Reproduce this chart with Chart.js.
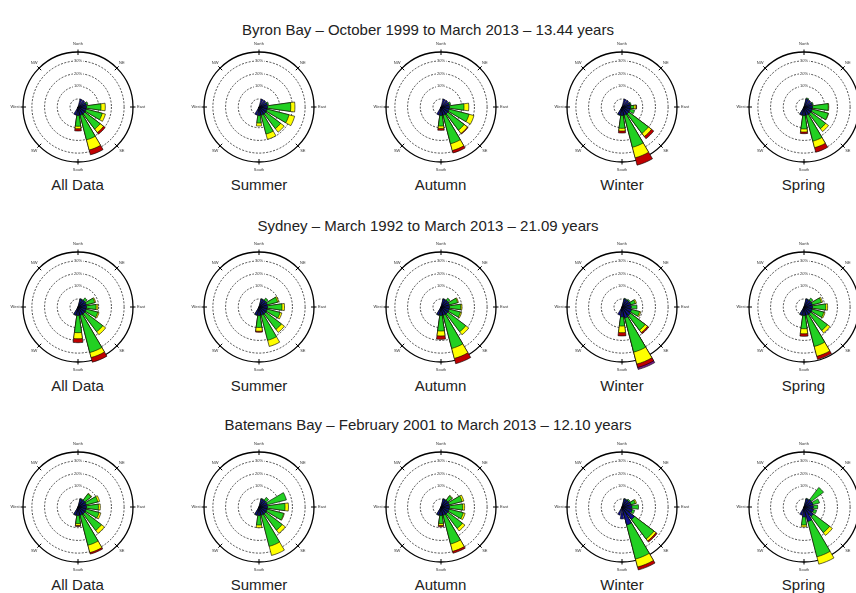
<!DOCTYPE html>
<html><head><meta charset="utf-8">
<script src="https://cdn.jsdelivr.net/npm/chart.js@4.4.1/dist/chart.umd.min.js"></script>
<style>
html,body{margin:0;padding:0;background:#fff;}
#page{position:relative;width:856px;height:593px;overflow:hidden;font-family:"Liberation Sans",Arial,sans-serif;color:#222;}
.title{position:absolute;left:0;width:856px;text-align:center;font-size:15px;line-height:18px;}
.season{position:absolute;width:160px;text-align:center;font-size:15px;line-height:18px;}
canvas.rose{position:absolute;}
</style></head><body><div id="page"></div>
<script>
// ---------- labels ----------
const directions = ['N','NNE','NE','ENE','E','ESE','SE','SSE','S','SSW','SW','WSW','W','WNW','NW','NNW'];
const compassLabels = ['North','NE','East','SE','South','SW','West','NW'];
const seasons = ['All Data','Summer','Autumn','Winter','Spring'];
const stationTitles = [
  'Byron Bay – October 1999 to March 2013 – 13.44 years',
  'Sydney – March 1992 to March 2013 – 21.09 years',
  'Batemans Bay – February 2001 to March 2013 – 12.10 years'
];
const ringValues = [0, 10, 20, 30];
const ringLabels = ['', '10%', '20%', '30%'];
const heightClasses = ['blue','green','yellow','red','purple'];
const classColors = { blue:'#12128c', green:'#22d022', yellow:'#ffff00', red:'#c00000', purple:'#7a1a8a' };

// ---------- data: % occurrence per direction (16 sectors) for each height class ----------
// Byron Bay
const byronAll_blue   = [0,0.2,0.3,0.4,0.4,0.4,0.4,0.4,0.4,0.2,0,0,0,0,0,0];
const byronAll_green  = [0,0,0,1.4,11.4,13.0,15.1,20.0,8.5,0,0,0,0,0,0,0];
const byronAll_yellow = [0,0,0,0,3.4,2.6,3.4,8.3,1.9,0,0,0,0,0,0,0];
const byronAll_red    = [0,0,0,0,0,0,1.6,3.9,1.8,0,0,0,0,0,0,0];

const byronSum_blue   = [0,0.2,0.3,0.4,0.4,0.4,0.4,0.4,0.4,0.2,0,0,0,0,0,0];
const byronSum_green  = [0,0,0,1.1,18.3,17.7,14.6,15.3,5.9,0,0,0,0,0,0,0];
const byronSum_yellow = [0,0,0,0,3.3,4.6,3.6,4.3,2.4,0,0,0,0,0,0,0];

const byronAut_blue   = [0,0.2,0.3,0.4,0.4,0.4,0.4,0.4,0.4,0.2,0,0,0,0,0,0];
const byronAut_green  = [0,0,0,1.2,11.4,16.1,16.1,23.2,8.3,0,0,0,0,0,0,0];
const byronAut_yellow = [0,0,0,0,3.8,4.0,3.3,5.5,1.9,0,0,0,0,0,0,0];
const byronAut_red    = [0,0,0,0,0,0,0.6,2.0,1.5,0,0,0,0,0,0,0];

const byronWin_blue   = [0,0.2,0.3,0.4,0.4,0.4,0.4,0.4,0.4,0.2,0,0,0,0,0,0];
const byronWin_green  = [0,0,0,0.7,2.6,3.6,19.3,26.1,10.1,0.3,0,0,0,0,0,0];
const byronWin_yellow = [0,0,0,0,1.7,0,3.1,8.5,2.1,0,0,0,0,0,0,0];
const byronWin_red    = [0,0,0,0,0.5,0,2.2,6.0,1.6,0,0,0,0,0,0,0];

const byronSpr_blue   = [0,0.3,0.3,0.4,0.4,0.4,0.4,0.4,0.4,0.2,0,0,0,0,0,0];
const byronSpr_green  = [0,0.8,0,0.8,12.4,13.0,14.6,21.1,10.6,0.2,0,0,0,0,0,0];
const byronSpr_yellow = [0,0,0,0,0.4,0.3,2.9,5.3,2.4,0,0,0,0,0,0,0];
const byronSpr_red    = [0,0,0,0,0,0,0,3.7,1.3,0,0,0,0,0,0,0];

// Sydney
const sydAll_blue   = [0,0.2,0.3,0.4,0.4,0.4,0.4,0.4,0.4,0.2,0,0,0,0,0,0];
const sydAll_green  = [0,0.3,2.4,6.9,7.6,9.4,17.7,30.3,13.5,0.3,0,0,0,0,0,0];
const sydAll_yellow = [0,0,0,0.8,1.4,1.0,2.9,4.1,4.8,0,0,0,0,0,0,0];
const sydAll_red    = [0,0,0,0,0,0,0,3.8,3.1,0,0,0,0,0,0,0];

const sydSum_blue   = [0,0.2,0.3,0.4,0.4,0.4,0.4,0.4,0.4,0.2,0,0,0,0,0,0];
const sydSum_green  = [0,0.3,2.2,8.4,11.4,10.4,15.4,20.4,9.4,0.3,0,0,0,0,0,0];
const sydSum_yellow = [0,0,0,1.0,2.0,1.5,3.0,5.0,3.0,0,0,0,0,0,0,0];
const sydSum_red    = [0,0,0,0,0,0,0,0,0.8,0,0,0,0,0,0,0];

const sydAut_blue   = [0,0.2,0.3,0.4,0.4,0.4,0.4,0.4,0.4,0.2,0,0,0,0,0,0];
const sydAut_green  = [0,0.3,2.2,6.8,8.8,9.1,17.7,27.0,12.2,0.3,0,0,0,0,0,0];
const sydAut_yellow = [0,0,0,0.7,1.0,1.0,3.0,8.1,3.9,0,0,0,0,0,0,0];
const sydAut_red    = [0,0,0,0,0,0,0,4.3,2.7,0,0,0,0,0,0,0];

const sydWin_blue   = [0,0.3,0.4,0.8,1.0,1.5,2.0,2.6,1.5,0.3,0,0,0,0,0,0];
const sydWin_green  = [0,0.5,1.0,3.7,4.5,6.5,14.5,27.8,7.2,0,0,0,0,0,0,0];
const sydWin_yellow = [0,0,0,1.0,0,1.0,2.4,9.7,5.2,0,0,0,0,0,0,0];
const sydWin_red    = [0,0,0,0,0,0,1.1,2.8,2.6,0,0,0,0,0,0,0];
const sydWin_purple = [0,0,0,0,0,0,0,1.6,0,0,0,0,0,0,0,0];

const sydSpr_blue   = [0,0.2,0.3,0.4,0.4,0.4,0.4,0.4,0.4,0.2,0,0,0,0,0,0];
const sydSpr_green  = [0,0.3,2.2,7.4,10.4,9.4,16.4,25.4,10.4,0.3,0,0,0,0,0,0];
const sydSpr_yellow = [0,0,0,1.0,1.5,1.0,2.5,8.0,4.0,0,0,0,0,0,0,0];
const sydSpr_red    = [0,0,0,0,0,0,0,2.5,2.0,0,0,0,0,0,0,0];

// Batemans Bay
const batAll_blue   = [0,0.2,0.3,0.4,0.4,0.4,0.4,0.4,0.4,0.2,0,0,0,0,0,0];
const batAll_green  = [0,0.5,6.4,9.4,9.4,10.4,16.4,24.4,6.4,0.3,0,0,0,0,0,0];
const batAll_yellow = [0,0,0.5,1.5,1.5,1.5,3.0,6.0,1.5,0,0,0,0,0,0,0];
const batAll_red    = [0,0,0,0,0,0,0,1.2,0.8,0,0,0,0,0,0,0];

const batSum_blue   = [0,0.2,0.3,0.4,0.4,0.4,0.4,0.4,0.4,0.2,0,0,0,0,0,0];
const batSum_green  = [0,0.5,2.9,15.6,13.8,13.4,16.1,25.3,7.5,0.3,0,0,0,0,0,0];
const batSum_yellow = [0,0,0,0,2.7,0.5,3.2,7.4,2.1,0,0,0,0,0,0,0];

const batAut_blue   = [0,0.2,0.3,0.4,0.4,0.4,0.4,0.4,0.4,0.2,0,0,0,0,0,0];
const batAut_green  = [0,0.3,4.4,10.4,10.4,11.4,14.4,23.4,6.4,0.3,0,0,0,0,0,0];
const batAut_yellow = [0,0,0.5,1.5,1.5,1.5,2.5,6.0,1.5,0,0,0,0,0,0,0];
const batAut_red    = [0,0,0,0,0,0,0,1.5,1.0,0,0,0,0,0,0,0];

const batWin_blue   = [0,0.3,0.5,1.0,1.5,2.0,6.0,8.3,3.1,0.3,0,0,0,0,0,0];
const batWin_green  = [0,0.3,1.0,3.5,5.2,2.0,19.2,27.7,0,0,0,0,0,0,0,0];
const batWin_yellow = [0,0,0,1.0,0,0,2.0,6.5,0,0,0,0,0,0,0,0];
const batWin_red    = [0,0,0,0,0,0,1.1,2.4,0,0,0,0,0,0,0,0];

const batSpr_blue   = [0,0.3,1.0,1.0,1.0,1.5,3.0,5.5,1.5,0.3,0,0,0,0,0,0];
const batSpr_green  = [0,0.5,12.0,5.3,3.5,2.5,15.9,28.7,6.4,0,0,0,0,0,0,0];
const batSpr_yellow = [0,0,0,0,0,0,2.8,6.0,1.5,0,0,0,0,0,0,0];

const roses = [
  [ {blue:byronAll_blue,green:byronAll_green,yellow:byronAll_yellow,red:byronAll_red},
    {blue:byronSum_blue,green:byronSum_green,yellow:byronSum_yellow},
    {blue:byronAut_blue,green:byronAut_green,yellow:byronAut_yellow,red:byronAut_red},
    {blue:byronWin_blue,green:byronWin_green,yellow:byronWin_yellow,red:byronWin_red},
    {blue:byronSpr_blue,green:byronSpr_green,yellow:byronSpr_yellow,red:byronSpr_red} ],
  [ {blue:sydAll_blue,green:sydAll_green,yellow:sydAll_yellow,red:sydAll_red},
    {blue:sydSum_blue,green:sydSum_green,yellow:sydSum_yellow,red:sydSum_red},
    {blue:sydAut_blue,green:sydAut_green,yellow:sydAut_yellow,red:sydAut_red},
    {blue:sydWin_blue,green:sydWin_green,yellow:sydWin_yellow,red:sydWin_red,purple:sydWin_purple},
    {blue:sydSpr_blue,green:sydSpr_green,yellow:sydSpr_yellow,red:sydSpr_red} ],
  [ {blue:batAll_blue,green:batAll_green,yellow:batAll_yellow,red:batAll_red},
    {blue:batSum_blue,green:batSum_green,yellow:batSum_yellow},
    {blue:batAut_blue,green:batAut_green,yellow:batAut_yellow,red:batAut_red},
    {blue:batWin_blue,green:batWin_green,yellow:batWin_yellow,red:batWin_red},
    {blue:batSpr_blue,green:batSpr_green,yellow:batSpr_yellow} ]
];

// ---------- layout / style ----------
const rMin = -6.3, rMax = 37;
const barAngle = 16, gapAngle = 22.5 - 16;
const colX = [77.5, 259, 440.5, 622, 803.5];
const rowY = [107, 306.5, 506.5];
const titleY = [30, 226, 425];
const labelY = [185, 386, 585];
const CAN = 150, RADIUS = 55.5;

const page = document.getElementById('page');

const roseDecor = {
  id: 'roseDecor',
  beforeDatasetsDraw(chart) {
    const s = chart.scales.r, ctx = chart.ctx;
    const cx = s.xCenter, cy = s.yCenter, R = s.drawingArea;
    ctx.save();
    ctx.strokeStyle = '#000';
    ctx.lineWidth = 1;
    for (let k = 0; k < 8; k++) {
      const a = k * Math.PI / 4, sx = Math.sin(a), sy = -Math.cos(a);
      ctx.beginPath();
      ctx.moveTo(cx + sx * (R - 3), cy + sy * (R - 3));
      ctx.lineTo(cx + sx * (R + 2.5), cy + sy * (R + 2.5));
      ctx.stroke();
    }
    ctx.fillStyle = '#333';
    ctx.font = '4px "Liberation Sans", Arial, sans-serif';
    ctx.textAlign = 'center';
    ctx.textBaseline = 'middle';
    compassLabels.forEach((t, k) => {
      const a = k * Math.PI / 4;
      const d = R + (k % 2 === 0 ? 8 : 7);
      ctx.fillText(t, cx + Math.sin(a) * d, cy - Math.cos(a) * d);
    });
    ringValues.forEach((v, i) => {
      if (!ringLabels[i]) return;
      const d = s.getDistanceFromCenterForValue(v);
      const w = ctx.measureText(ringLabels[i]).width + 2;
      ctx.fillStyle = '#fff';
      ctx.fillRect(cx - w / 2, cy - d - 2.5, w, 5);
      ctx.fillStyle = '#333';
      ctx.fillText(ringLabels[i], cx, cy - d);
    });
    ctx.restore();
  }
};

function buildDatasets(rose) {
  const cum = new Array(16).fill(0);
  return heightClasses.map(cls => {
    const seg = rose[cls] || new Array(16).fill(0);
    const data = [];
    for (let i = 0; i < 16; i++) {
      cum[i] += seg[i];
      data.push(seg[i] > 0 ? cum[i] : rMin);
      data.push(rMin);
    }
    return {
      label: cls,
      data,
      backgroundColor: classColors[cls],
      borderColor: c => (c.dataIndex % 2 ? 'rgba(0,0,0,0)' : '#000'),
      borderWidth: 0.6,
      angle: c => (c.dataIndex % 2 === 0 ? barAngle : gapAngle),
      clip: false
    };
  });
}

const sectorLabels = [];
directions.forEach(d => { sectorLabels.push(d); sectorLabels.push(''); });

stationTitles.forEach((t, r) => {
  const div = document.createElement('div');
  div.className = 'title';
  div.style.top = (titleY[r] - 9) + 'px';
  div.textContent = t;
  page.appendChild(div);
  seasons.forEach((sName, c) => {
    const lab = document.createElement('div');
    lab.className = 'season';
    lab.style.left = (colX[c] - 80) + 'px';
    lab.style.top = (labelY[r] - 9) + 'px';
    lab.textContent = sName;
    page.appendChild(lab);

    const cv = document.createElement('canvas');
    cv.className = 'rose';
    cv.width = CAN; cv.height = CAN;
    cv.style.width = CAN + 'px'; cv.style.height = CAN + 'px';
    cv.style.left = Math.round(colX[c] - CAN / 2) + 'px';
    cv.style.top = Math.round(rowY[r] - CAN / 2) + 'px';
    page.appendChild(cv);
    const pad = CAN / 2 - RADIUS;
    new Chart(cv, {
      type: 'polarArea',
      data: { labels: sectorLabels, datasets: buildDatasets(roses[r][c]) },
      options: {
        responsive: false,
        animation: false,
        devicePixelRatio: 1,
        events: [],
        layout: { padding: pad },
        plugins: { legend: { display: false }, tooltip: { enabled: false } },
        scales: {
          r: {
            min: rMin, max: rMax,
            startAngle: -barAngle / 2,
            ticks: { display: false, stepSize: 10 },
            pointLabels: { display: false },
            angleLines: { display: false },
            grid: {
              circular: true,
              color: g => (g.index === 0 ? 'rgba(0,0,0,0)' : '#000'),
              lineWidth: g => (g.tick && g.tick.value === rMax ? 1.3 : 0.7)
            },
            border: { dash: g => (g.tick && g.tick.value === rMax ? [] : [2, 1.5]) }
          }
        }
      },
      plugins: [roseDecor]
    });
  });
});
</script>
</body></html>
